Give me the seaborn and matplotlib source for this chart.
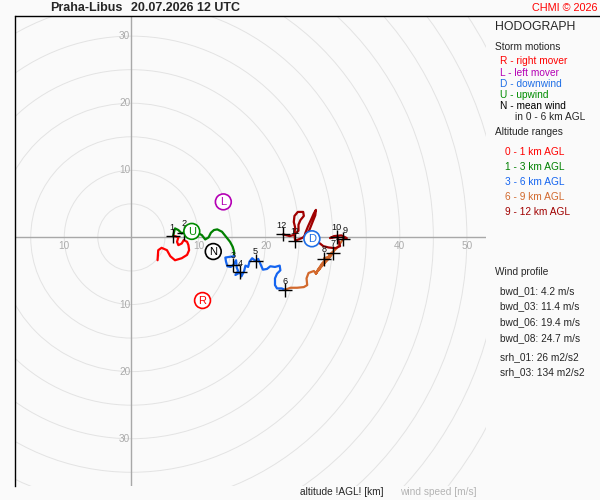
import matplotlib
matplotlib.use("Agg")
import matplotlib.pyplot as plt
from matplotlib.patches import Circle
from matplotlib.lines import Line2D
import seaborn as sns
import pandas as pd

# ---------------- data (u, v in m/s) ----------------
layers = ["0-1", "1-3", "3-6", "6-9", "9-12"]
layer_colors = ["#ff0000", "#008000", "#1464f0", "#d2692d", "#a00000"]

u_01 = [3.9, 4.0, 4.5, 5.3, 5.8, 6.5, 7.5, 8.3, 8.6, 8.5, 8.3, 7.8, 7.5, 7.0, 6.8, 7.0, 6.5, 6.2]
v_01 = [-3.4, -1.9, -1.55, -1.9, -2.8, -3.4, -3.1, -2.6, -1.9, -1.15, -0.65, -0.4, -0.9, -1.15, -0.65, 0.0, 0.2, 0.2]

u_13 = [6.2, 6.5, 7.0, 7.5, 7.9, 8.5, 9.2, 10.0, 10.5, 11.0, 11.5, 11.85, 12.3, 12.8, 13.5, 14.1, 14.7, 15.1, 15.3, 15.3]
v_13 = [0.2, 1.35, 1.1, 0.6, 0.8, 0.9, 0.8, 0.6, 0.35, -0.3, 0.0, 0.7, 1.1, 1.2, 0.85, 0.1, -0.65, -1.4, -2.1, -2.8]

u_36 = [15.3, 14.6, 14.0, 14.1, 14.3, 14.8, 15.2, 15.6, 15.7, 15.9, 15.5, 16.2, 16.4, 16.8, 17.0, 17.4,
        17.6, 18.0, 18.5, 18.9, 19.2, 19.6, 20.2, 20.7, 21.4, 22.1, 22.2, 21.7, 21.4, 21.4, 21.7, 22.4, 22.9]
v_36 = [-2.8, -2.9, -3.0, -3.6, -4.3, -4.4, -4.1, -3.4, -4.5, -5.0, -5.6, -5.2, -5.8, -5.0, -4.2, -4.4,
        -3.6, -3.1, -3.5, -3.2, -3.9, -4.8, -4.7, -4.3, -4.4, -4.2, -4.9, -5.4, -6.1, -7.1, -7.6, -7.6, -7.8]

u_69 = [22.9, 23.7, 24.7, 25.7, 26.2, 26.1, 26.4, 27.2, 27.5, 28.0, 28.6, 29.3, 30.1, 29.5, 28.5, 27.8,
        27.5, 28.3, 27.9, 28.9, 28.3, 29.6, 29.0, 28.7, 29.4, 30.0, 29.5, 30.4, 30.8, 31.1, 31.5]
v_69 = [-7.8, -7.5, -7.5, -7.4, -7.1, -6.1, -5.3, -5.0, -5.4, -4.6, -4.0, -3.3, -2.2, -2.9, -3.8, -4.8,
        -5.4, -4.2, -4.9, -3.6, -4.1, -2.6, -3.5, -3.1, -2.9, -2.3, -2.6, -1.8, -1.4, -0.9, -0.3]

u_912 = [31.5, 32.1, 31.3, 30.2, 29.6, 30.7, 30.9, 31.1, 30.4, 29.4, 28.6, 28.1, 27.3, 26.4, 25.8, 25.9,
         26.3, 26.8, 27.2, 27.5, 27.4, 27.0, 26.6, 26.2, 25.4, 24.4, 24.3, 24.4, 24.2, 24.3, 24.8, 25.6,
         25.7, 25.2, 24.9, 24.9, 24.3, 23.6, 22.6]
v_912 = [-0.3, -0.1, 0.3, 0.2, -0.1, 0.1, -0.6, -1.3, -1.6, -1.5, -1.3, -0.9, -0.5, -0.2, 0.2, 0.6,
         1.6, 2.7, 3.6, 4.1, 3.3, 2.3, 1.3, 0.4, -0.1, -0.5, 0.5, 1.5, 2.3, 3.2, 3.8, 3.8,
         3.2, 2.6, 1.9, 1.0, 0.4, 0.2, 0.45]

km_labels = ["1", "2", "3", "4", "5", "6", "7", "8", "9", "10", "11", "12"]
km_u = [6.2, 7.9, 15.2, 16.2, 18.5, 22.9, 30.1, 28.7, 31.5, 30.7, 24.4, 22.6]
km_v = [0.2, 0.7, -4.1, -5.2, -3.5, -7.9, -2.3, -3.2, -0.3, 0.1, -0.5, 0.45]
km_dx = [-1, 0, 0, 0, 0, 0, 0, 0, 1.5, -1, 0, -1]

storm_letters = ["R", "L", "D", "U", "N"]
storm_u = [10.6, 13.7, 26.9, 9.0, 12.2]
storm_v = [-9.4, 5.3, -0.2, 0.9, -2.1]
storm_colors = ["#ff0000", "#b400b4", "#1e6ee6", "#008c00", "#000000"]

x_ticks = [-10, 10, 20, 40, 50]
y_ticks = [30, 20, 10, -10, -20, -30]

storm_legend = ["R - right mover", "L - left mover", "D - downwind", "U - upwind", "N - mean wind"]
alt_legend = ["0 - 1 km AGL", "1 - 3 km AGL", "3 - 6 km AGL", "6 - 9 km AGL", "9 - 12 km AGL"]
profile_lines = ["bwd_01: 4.2 m/s", "bwd_03: 11.4 m/s", "bwd_06: 19.4 m/s", "bwd_08: 24.7 m/s"]
srh_lines = ["srh_01: 26 m2/s2", "srh_03: 134 m2/s2"]

# ---------------- style ----------------
sns.set_style("white")
plt.rcParams["font.family"] = ["Liberation Sans", "DejaVu Sans"]
BG = "#fafafa"

fig = plt.figure(figsize=(6, 5), dpi=100, facecolor=BG)
W, H = 600.0, 500.0
ax = fig.add_axes([15.3 / W, 1 - 485.7 / H, 470.4 / W, (485.7 - 16.0) / H])
ax.set_facecolor(BG)
ax.set_xlim(-17.3, 52.8)
ax.set_ylim(-37.0, 33.0)
ax.set_xticks([])
ax.set_yticks([])
for s in ["top", "right", "bottom"]:
    ax.spines[s].set_visible(False)
ax.spines["left"].set_color("black")
ax.spines["left"].set_linewidth(1.0)

for r in range(5, 75, 5):
    ax.add_patch(Circle((0, 0), r, fill=False, ec="#e3e3e3", lw=0.7, zorder=0))
ax.axhline(0, color="#a8a8a8", lw=1.0, zorder=1)
ax.axvline(0, color="#a8a8a8", lw=1.0, zorder=1)

for t in x_ticks:
    ax.text(t, -1.25, str(abs(t)), ha="center", va="center", fontsize=7.2, color="#ababab", zorder=1)
for t in y_ticks:
    ax.text(-0.15, t, str(abs(t)), ha="right", va="center", fontsize=7.2, color="#ababab", zorder=1)

# hodograph segments
frames = []
for name, uu, vv in zip(layers, [u_01, u_13, u_36, u_69, u_912], [v_01, v_13, v_36, v_69, v_912]):
    frames.append(pd.DataFrame({"u": uu, "v": vv, "layer": name, "order": range(len(uu))}))
df = pd.concat(frames, ignore_index=True)
sns.lineplot(data=df, x="u", y="v", hue="layer", palette=dict(zip(layers, layer_colors)),
             sort=False, estimator=None, units="layer", lw=1.6, legend=False, ax=ax, zorder=3)

# km markers
km = pd.DataFrame({"u": km_u, "v": km_v, "lab": km_labels})
sns.scatterplot(data=km, x="u", y="v", marker="+", s=110, color="black", linewidth=1.0, ax=ax, zorder=4)
for lab, x, y, dx in zip(km_labels, km_u, km_v, km_dx):
    ax.annotate(lab, (x, y), xytext=(dx, 6.5), textcoords="offset points", ha="center", va="center",
                fontsize=6.6, color="#111111", zorder=5)

# storm motion markers
st = pd.DataFrame({"u": storm_u, "v": storm_v, "lab": storm_letters})
sns.scatterplot(data=st, x="u", y="v", hue="lab", palette=dict(zip(storm_letters, storm_colors)),
                marker="o", s=130, linewidth=1.2, legend=False, ax=ax, zorder=6)
coll = ax.collections[-1]
coll.set_facecolor("white")
coll.set_edgecolor(storm_colors)
for lab, x, y, c in zip(storm_letters, storm_u, storm_v, storm_colors):
    ax.text(x, y - 0.05, lab, ha="center", va="center", fontsize=8.0, color=c, zorder=7)
ax.set_xlabel("")
ax.set_ylabel("")

# frame top line
fig.add_artist(Line2D([15.3 / W, 1.0], [1 - 16.0 / H, 1 - 16.0 / H], color="black", lw=1.0))

def ftext(x, y, s, **kw):
    kw.setdefault("va", "center")
    kw.setdefault("fontsize", 7.3)
    fig.text(x / W, 1 - y / H, s, **kw)

ftext(50, 8, "Praha-Libus", fontsize=9, fontweight="bold")
ftext(131, 8, "20.07.2026 12 UTC", fontsize=9, fontweight="bold")
ftext(597, 8, "CHMI \u00a9 2026", ha="right", fontsize=7.8, color="#ff0000")

ftext(495, 27, "HODOGRAPH", fontsize=8.8)
ftext(495, 47, "Storm motions")
for i, (s, c) in enumerate(zip(storm_legend, storm_colors)):
    ftext(500.5, 61.5 + 11.2 * i, s, color=c)
ftext(515, 116.5, "in 0 - 6 km AGL")
ftext(495, 132, "Altitude ranges")
for i, (s, c) in enumerate(zip(alt_legend, layer_colors)):
    ftext(505, 152 + 15 * i, s, color=c)

ftext(495, 272, "Wind profile")
for i, s in enumerate(profile_lines):
    ftext(500, 291 + 15.6 * i, s)
for i, s in enumerate(srh_lines):
    ftext(500, 357 + 15 * i, s)

ftext(300.5, 492, "altitude !AGL! [km]")
ftext(400, 492, "wind speed [m/s]", color="#b4b4b4")

fig.savefig("out.png", dpi=100, facecolor=BG)
